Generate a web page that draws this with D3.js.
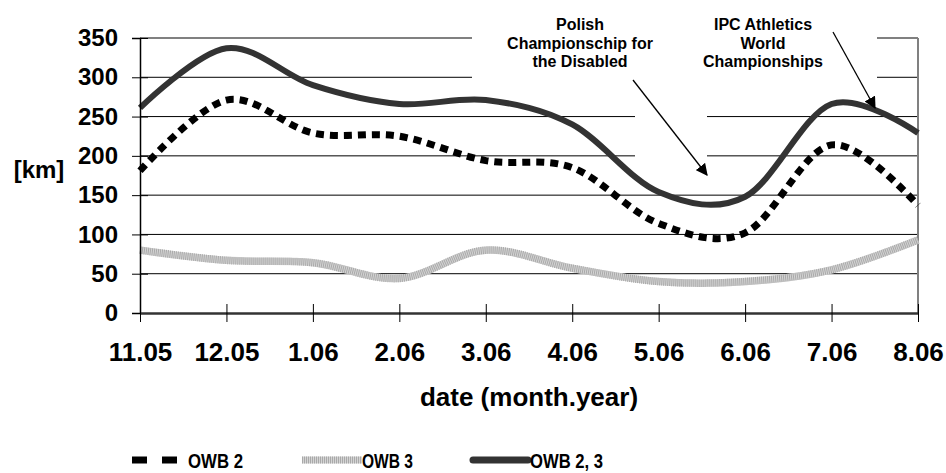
<!DOCTYPE html>
<html>
<head>
<meta charset="utf-8">
<script src="https://cdn.jsdelivr.net/npm/d3@7"></script>
<style>
  body { margin: 0; background: #fff; }
  text { font-family: "Liberation Sans", Arial, sans-serif; font-weight: bold; }
</style>
</head>
<body>
<svg id="chart"></svg>
<script>
let months = ["11.05", "12.05", "1.06", "2.06", "3.06", "4.06", "5.06", "6.06", "7.06", "8.06"];
let owb2 = [181, 271, 229, 225, 194, 185, 114, 102, 214, 137];
let owb3 = [80, 67, 64, 44, 80, 57, 40, 40, 55, 93];
let owb23 = [261, 337, 290, 266, 271, 240, 154, 148, 266, 229];
let yTicks = [0, 50, 100, 150, 200, 250, 300, 350];

function makeLineChart() {
    let w = 946;
    let h = 473;

    let svg = d3.select('#chart')
        .attr('width', w)
        .attr('height', h);

    let xScale = d3.scalePoint()
        .domain(months)
        .range([140, 918]);

    let yScale = d3.scaleLinear()
        .domain([0, 350])
        .range([313, 38]);

    // grid lines
    svg.append('g')
        .selectAll('line')
        .data(yTicks.filter(d => d > 0))
        .join('line')
        .attr('x1', 140)
        .attr('x2', 918)
        .attr('y1', d => yScale(d))
        .attr('y2', d => yScale(d))
        .attr('stroke', d => d == 350 ? '#808080' : '#000')
        .attr('stroke-width', d => d == 350 ? 2 : 1);

    // right border of plot area
    svg.append('line')
        .attr('x1', 918).attr('x2', 918)
        .attr('y1', yScale(350)).attr('y2', yScale(0))
        .attr('stroke', '#808080')
        .attr('stroke-width', 2);

    // white boxes behind the notes
    svg.append('rect').attr('x', 472).attr('y', 0).attr('width', 405).attr('height', 96).attr('fill', '#fff');
    svg.append('rect').attr('x', 635).attr('y', 90).attr('width', 72).attr('height', 75).attr('fill', '#fff');

    let line = data => d3.line()
        .curve(d3.curveCardinal.tension(0))
        .x((d, i) => xScale(months[i]))
        .y(d => yScale(d))(data);

    // OWB 3 - hatched grey
    svg.append('path')
        .attr('d', line(owb3))
        .attr('fill', 'none')
        .attr('stroke', '#d4d4d4')
        .attr('stroke-width', 7.5);
    svg.append('path')
        .attr('d', line(owb3))
        .attr('fill', 'none')
        .attr('stroke', '#a9a9a9')
        .attr('stroke-width', 7.5)
        .attr('stroke-dasharray', '1,1');

    // OWB 2, 3 - solid dark
    svg.append('path')
        .attr('d', line(owb23))
        .attr('fill', 'none')
        .attr('stroke', '#333')
        .attr('stroke-width', 6);

    // OWB 2 - dashed black
    svg.append('path')
        .attr('d', line(owb2))
        .attr('fill', 'none')
        .attr('stroke', '#000')
        .attr('stroke-width', 7)
        .attr('stroke-dasharray', '8,6');

    // y axis
    let yAxis = d3.axisLeft(yScale)
        .tickValues(yTicks)
        .tickSize(8)
        .tickPadding(14);
    let yAxisGroup = svg.append('g')
        .attr('transform', 'translate(140, 0)')
        .call(yAxis);
    yAxisGroup.select('.domain').attr('stroke', '#000').attr('stroke-width', 1.5);
    yAxisGroup.selectAll('.tick line').attr('x1', 8).attr('stroke', '#000');
    yAxisGroup.selectAll('.tick text')
        .attr('font-size', 24)
        .attr('fill', '#000')
        .style('font-weight', 'bold')
        .style('font-family', '"Liberation Sans", Arial, sans-serif');

    // x axis
    let xAxis = d3.axisBottom(xScale)
        .tickSize(9)
        .tickPadding(21)
        .tickSizeOuter(0);
    let xAxisGroup = svg.append('g')
        .attr('transform', `translate(0, ${yScale(0)})`)
        .call(xAxis);
    xAxisGroup.select('.domain').attr('stroke', '#333').attr('stroke-width', 2.5);
    xAxisGroup.selectAll('.tick line').attr('y1', -9).attr('stroke', '#000');
    xAxisGroup.selectAll('.tick text')
        .attr('font-size', 26)
        .attr('fill', '#000')
        .style('font-weight', 'bold')
        .style('font-family', '"Liberation Sans", Arial, sans-serif');

    // axis titles
    svg.append('text')
        .attr('x', 529).attr('y', 406)
        .attr('text-anchor', 'middle')
        .attr('font-size', 26)
        .text('date (month.year)');
    svg.append('text')
        .attr('x', 39).attr('y', 178)
        .attr('text-anchor', 'middle')
        .attr('font-size', 24)
        .text('[km]');

    // notes
    let notes = [
        { x: 580, y: 30, lines: ['Polish', 'Championschip for', 'the Disabled'] },
        { x: 763, y: 30, lines: ['IPC Athletics', 'World', 'Championships'] }
    ];
    notes.forEach(n => {
        let t = svg.append('text')
            .attr('text-anchor', 'middle')
            .attr('font-size', 16);
        n.lines.forEach((s, i) => {
            t.append('tspan').attr('x', n.x).attr('y', n.y + i * 18.5).text(s);
        });
    });

    svg.append('defs').append('marker')
        .attr('id', 'arrow')
        .attr('viewBox', '0 0 10 10')
        .attr('refX', 9).attr('refY', 5)
        .attr('markerWidth', 12).attr('markerHeight', 12)
        .attr('markerUnits', 'userSpaceOnUse')
        .attr('orient', 'auto')
        .append('path')
        .attr('d', 'M0,0 L10,5 L0,10 z')
        .attr('fill', '#000');

    let arrows = [[633, 80, 707, 175], [833, 32, 875, 108]];
    svg.append('g')
        .selectAll('line')
        .data(arrows)
        .join('line')
        .attr('x1', d => d[0]).attr('y1', d => d[1])
        .attr('x2', d => d[2]).attr('y2', d => d[3])
        .attr('stroke', '#000')
        .attr('stroke-width', 1.3)
        .attr('marker-end', 'url(#arrow)');

    // legend
    let legend = svg.append('g').attr('transform', 'translate(0, 460)');
    legend.append('line')
        .attr('x1', 132).attr('x2', 177).attr('y1', 0).attr('y2', 0)
        .attr('stroke', '#000').attr('stroke-width', 7)
        .attr('stroke-dasharray', '15,15');
    legend.append('line')
        .attr('x1', 302).attr('x2', 362).attr('y1', 0).attr('y2', 0)
        .attr('stroke', '#d4d4d4').attr('stroke-width', 7);
    legend.append('line')
        .attr('x1', 302).attr('x2', 362).attr('y1', 0).attr('y2', 0)
        .attr('stroke', '#a9a9a9').attr('stroke-width', 7)
        .attr('stroke-dasharray', '1,1');
    legend.append('line')
        .attr('x1', 473).attr('x2', 528).attr('y1', 0).attr('y2', 0)
        .attr('stroke', '#333').attr('stroke-width', 7)
        .attr('stroke-linecap', 'round');
    let labels = [['OWB 2', 188, 55], ['OWB 3', 362, 51], ['OWB 2, 3', 530, 73]];
    labels.forEach(l => {
        legend.append('text')
            .attr('x', l[1]).attr('y', 8)
            .attr('font-size', 21)
            .attr('textLength', l[2])
            .attr('lengthAdjust', 'spacingAndGlyphs')
            .text(l[0]);
    });
}

makeLineChart();
</script>
</body>
</html>
